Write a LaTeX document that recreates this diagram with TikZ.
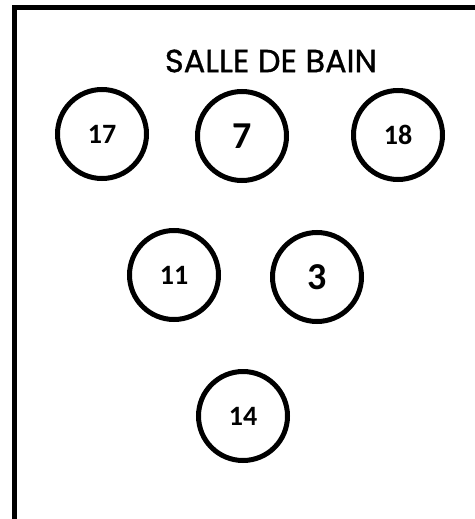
\documentclass[tikz,border=0pt]{standalone}
\usepackage{fontspec}
\setmainfont{Carlito}
\newfontfamily\titlefont[FakeBold=1]{Poppins}

\begin{document}
\begin{tikzpicture}[x=1pt, y=-1pt, thick,
    seat/.style={draw, circle, line width=5pt, minimum size=89pt, inner sep=0pt, font=\fontsize{28}{28}\selectfont\bfseries},
    bigseat/.style={seat, font=\fontsize{38}{38}\selectfont\bfseries}]
        \useasboundingbox (0,0) rectangle (474,519);
        % walls
        \draw[line width=5pt] (14,530) -- (14,8) -- (480,8);
        \node (Title) at (271,61) {\titlefont\fontsize{32}{32}\selectfont SALLE DE BAIN};
        % first row
        \node[seat] (S17) at (102,134) {17};
        \node[bigseat] (S7) at (242,136) {7};
        \node[seat] (S18) at (398,135) {18};
        % second row
        \node[seat] (S11) at (174,275) {11};
        \node[bigseat] (S3) at (317,277) {3};
        % third row
        \node[seat] (S14) at (243,416) {14};
    \end{tikzpicture}
\end{document}
